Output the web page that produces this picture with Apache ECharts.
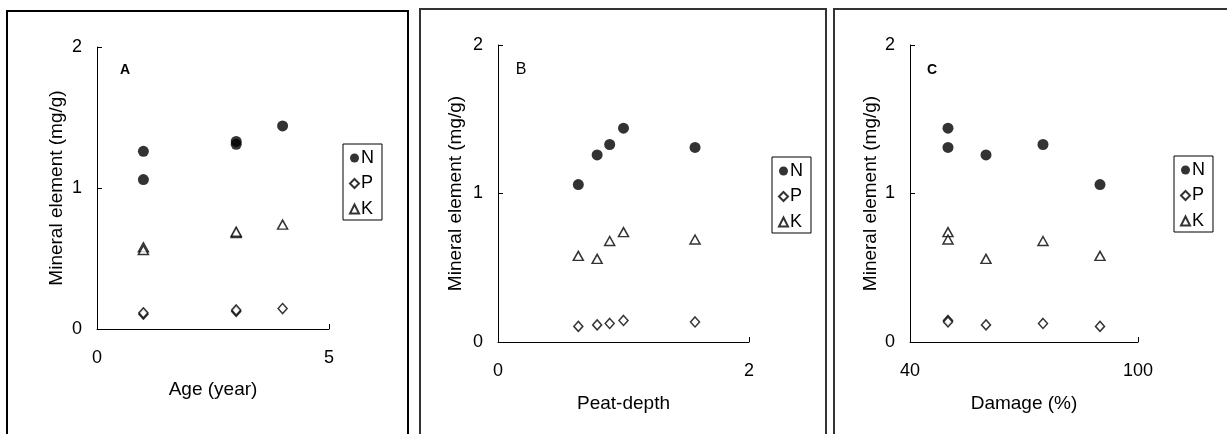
<!DOCTYPE html>
<html>
<head>
<meta charset="utf-8">
<script src="https://cdn.jsdelivr.net/npm/echarts@6/dist/echarts.min.js"></script>
<style>
html,body{margin:0;padding:0;background:#fff;}
#chart{width:1227px;height:434px;}
</style>
</head>
<body>
<div id="chart"></div>
<script>
// Five sampling sites; each site has an age, peat depth, damage level and N/P/K contents
var age = [1, 1, 3, 4, 3];
var peatDepth = [0.64, 0.79, 0.89, 1.0, 1.57];
var damage = [90, 60, 75, 50, 50];
var N = [1.06, 1.26, 1.33, 1.44, 1.31];
var P = [0.105, 0.115, 0.125, 0.145, 0.135];
var K = [0.58, 0.56, 0.68, 0.74, 0.69];

var seriesNames = ['N', 'P', 'K'];
var panelLabels = ['A', 'B', 'C'];
var xTitles = ['Age (year)', 'Peat-depth', 'Damage (%)'];
var yTitle = 'Mineral element (mg/g)';
var xTickLabels = [[0, 5], [0, 2], [40, 100]];
var yTickLabels = [0, 1, 2];

var FONT = '"Liberation Sans", Arial, sans-serif';
var xs = [age, peatDepth, damage];
var values = {N: N, P: P, K: K};

var grids = [
  {left: 97, top: 47, width: 232, height: 282},
  {left: 498, top: 45, width: 251, height: 297},
  {left: 910, top: 45, width: 228, height: 297}
];

var symbolStyle = {
  N: {symbol: 'circle', symbolSize: 11, itemStyle: {color: '#000', borderColor: '#000', borderWidth: 0}},
  P: {symbol: 'diamond', symbolSize: [9, 10], itemStyle: {color: '#fff', borderColor: '#000', borderWidth: 1.5}},
  K: {symbol: 'triangle', symbolSize: [10, 9], itemStyle: {color: '#fff', borderColor: '#000', borderWidth: 1.5}}
};

var xAxes = [], yAxes = [], series = [], legends = [];
var nameGapsX = [51, 52, 52];
var nameGapsY = [31, 33, 30];
var legendPos = [
  {left: 343, top: 144},
  {left: 772, top: 157},
  {left: 1174, top: 156}
];

for (var g = 0; g < 3; g++) {
  var tl = xTickLabels[g];
  xAxes.push({
    gridIndex: g, type: 'value', min: tl[0], max: tl[1],
    axisLine: {show: true, onZero: false, lineStyle: {color: '#000', width: 1}},
    axisTick: {show: true, inside: true, length: 5, customValues: tl, lineStyle: {color: '#000'}},
    axisLabel: {show: true, customValues: tl, margin: 20, fontSize: 18, color: '#000', fontFamily: FONT},
    splitLine: {show: false},
    name: xTitles[g], nameLocation: 'middle', nameGap: nameGapsX[g],
    nameTextStyle: {fontSize: 19, color: '#000', fontFamily: FONT}
  });
  yAxes.push({
    gridIndex: g, type: 'value', min: 0, max: 2, interval: 1,
    axisLine: {show: true, onZero: false, lineStyle: {color: '#000', width: 1}},
    axisTick: {show: true, inside: true, length: 5, lineStyle: {color: '#000'}},
    axisLabel: {show: true, margin: 15, fontSize: 18, color: '#000', fontFamily: FONT},
    splitLine: {show: false},
    name: yTitle, nameLocation: 'middle', nameGap: nameGapsY[g],
    nameTextStyle: {fontSize: 19, color: '#000', fontFamily: FONT}
  });
  seriesNames.forEach(function (s) {
    var st = symbolStyle[s];
    series.push({
      name: s, type: 'scatter', xAxisIndex: g, yAxisIndex: g,
      symbol: st.symbol, symbolSize: st.symbolSize, itemStyle: st.itemStyle,
      emphasis: {disabled: true}, silent: true, animation: false,
      data: xs[g].map(function (x, i) { return [x, values[s][i]]; })
    });
  });
  legends.push({
    orient: 'vertical', left: legendPos[g].left, top: legendPos[g].top,
    data: seriesNames, itemWidth: 9, itemHeight: 9, itemGap: 7.5,
    padding: [5, 8, 2, 6], borderColor: '#000', borderWidth: 1,
    textStyle: {fontSize: 18, color: '#000', fontFamily: FONT, padding: [0, 0, 0, -3]},
    selectedMode: false
  });
}

var chart = echarts.init(document.getElementById('chart'), null, {renderer: 'canvas'});
chart.setOption({
  backgroundColor: '#fff',
  animation: false,
  grid: grids,
  xAxis: xAxes,
  yAxis: yAxes,
  legend: legends,
  series: series,
  graphic: [
    {type: 'rect', shape: {x: 7, y: 11, width: 401, height: 440}, style: {fill: 'none', stroke: '#000', lineWidth: 2}, silent: true},
    {type: 'rect', shape: {x: 420, y: 9, width: 406, height: 440}, style: {fill: 'none', stroke: '#333', lineWidth: 2}, silent: true},
    {type: 'rect', shape: {x: 834, y: 9, width: 420, height: 440}, style: {fill: 'none', stroke: '#333', lineWidth: 2}, silent: true},
    {type: 'text', x: 125, y: 70, style: {text: panelLabels[0], font: 'bold 14px ' + FONT, fill: '#000', textAlign: 'center', textVerticalAlign: 'middle'}},
    {type: 'text', x: 521, y: 70, style: {text: panelLabels[1], font: '16px ' + FONT, fill: '#000', textAlign: 'center', textVerticalAlign: 'middle'}},
    {type: 'text', x: 932, y: 70, style: {text: panelLabels[2], font: 'bold 14px ' + FONT, fill: '#000', textAlign: 'center', textVerticalAlign: 'middle'}}
  ]
});
</script>
</body>
</html>
